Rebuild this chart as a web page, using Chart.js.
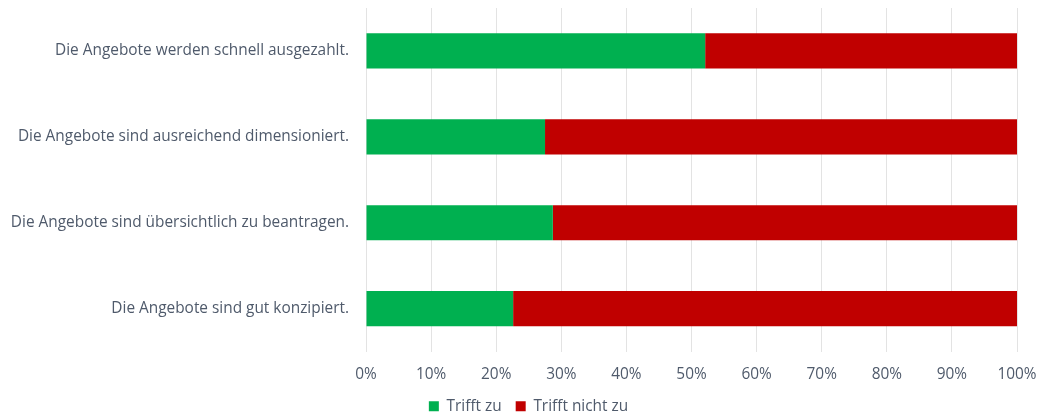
<!DOCTYPE html>
<html>
<head>
<meta charset="utf-8">
<script src="https://cdn.jsdelivr.net/npm/chart.js@4.4.1/dist/chart.umd.min.js"></script>
<style>
  html, body { margin: 0; padding: 0; background: #ffffff; }
  #wrap { width: 1038px; height: 415px; position: relative; }
</style>
</head>
<body>
<div id="wrap"><canvas id="c" width="1038" height="415"></canvas></div>
<script>
const categories = [
  "Die Angebote werden schnell ausgezahlt.",
  "Die Angebote sind ausreichend dimensioniert.",
  "Die Angebote sind übersichtlich zu beantragen.",
  "Die Angebote sind gut konzipiert."
];
const seriesNames = ["Trifft zu", "Trifft nicht zu"];
const trifftZu = [52.1, 27.5, 28.7, 22.6];
const trifftNichtZu = [47.9, 72.5, 71.3, 77.4];
const xTicks = [0, 10, 20, 30, 40, 50, 60, 70, 80, 90, 100];

const textColor = "#4f5a6b";
const fontFamily = "'Open Sans', 'Noto Sans', sans-serif";
const fontSize = 15.4;

const legendShift = {
  id: "legendShift",
  afterLayout(chart) {
    if (chart.legend) {
      chart.legend.left += 20;
      chart.legend.right += 20;
    }
  }
};

new Chart(document.getElementById("c"), {
  type: "bar",
  data: {
    labels: categories,
    datasets: [
      { label: seriesNames[0], data: trifftZu, backgroundColor: "#00b050", borderWidth: 0 },
      { label: seriesNames[1], data: trifftNichtZu, backgroundColor: "#c00000", borderWidth: 0 }
    ]
  },
  plugins: [legendShift],
  options: {
    indexAxis: "y",
    responsive: false,
    animation: false,
    devicePixelRatio: 1,
    layout: { padding: { top: 8, right: 21, left: 0, bottom: -9 } },
    datasets: { bar: { categoryPercentage: 1.0, barPercentage: 0.41 } },
    scales: {
      x: {
        stacked: true,
        min: 0,
        max: 100,
        afterBuildTicks: (s) => { s.ticks = xTicks.map(v => ({ value: v })); },
        afterFit: (s) => { s.paddingLeft = 0; s.paddingRight = 0; s.height = 33; },
        grid: { color: "#e3e3e3", lineWidth: 1, drawTicks: false },
        border: { display: false },
        ticks: {
          callback: (v) => v + "%",
          color: textColor,
          font: { family: fontFamily, size: fontSize },
          padding: 14,
          maxRotation: 0
        }
      },
      y: {
        stacked: true,
        grid: { display: false, drawTicks: false },
        border: { display: false },
        afterFit: (s) => { s.width = 366; s.paddingTop = 0; s.paddingBottom = 0; },
        ticks: {
          color: textColor,
          font: { family: fontFamily, size: fontSize },
          padding: 17
        }
      }
    },
    plugins: {
      legend: {
        position: "bottom",
        labels: {
          boxWidth: 10,
          boxHeight: 10,
          padding: 14,
          color: textColor,
          font: { family: fontFamily, size: fontSize }
        }
      },
      tooltip: { enabled: false }
    }
  }
});
</script>
</body>
</html>
